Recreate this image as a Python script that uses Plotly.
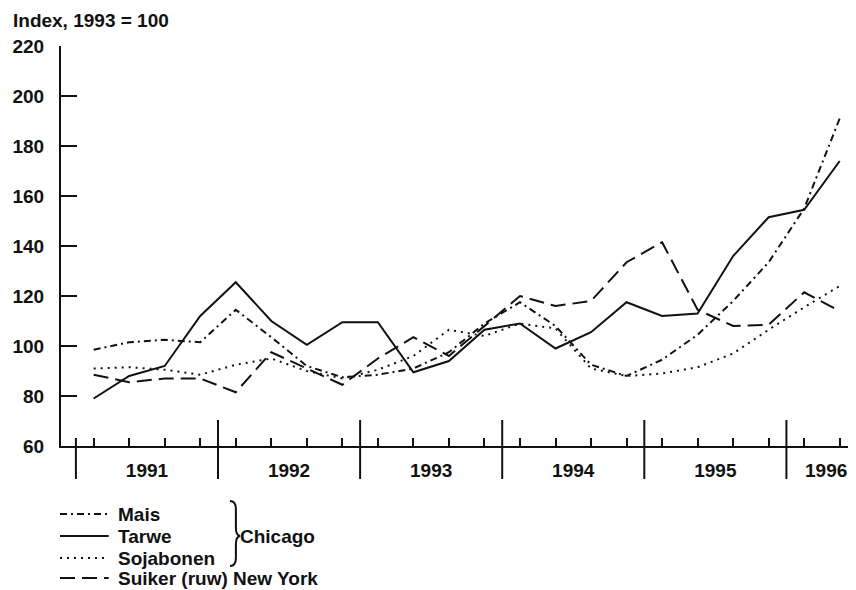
import plotly.graph_objects as go

# ---------------- data (quarterly, index 1993 = 100) ----------------
quarters = ["1991Q1", "1991Q2", "1991Q3", "1991Q4",
            "1992Q1", "1992Q2", "1992Q3", "1992Q4",
            "1993Q1", "1993Q2", "1993Q3", "1993Q4",
            "1994Q1", "1994Q2", "1994Q3", "1994Q4",
            "1995Q1", "1995Q2", "1995Q3", "1995Q4",
            "1996Q1", "1996Q2"]

mais = [98.5, 101.5, 102.5, 101.5, 114.5, 103.5, 92, 87.5, 88.5, 91, 97.5, 109,
        117.5, 108, 92.5, 88, 94.5, 104.5, 118, 133.5, 155, 191]
tarwe = [79, 88, 92, 112, 125.5, 110, 100.5, 109.5, 109.5, 89.5, 94, 106.5,
         109, 99, 105.5, 117.5, 112, 113, 136, 151.5, 154.5, 174]
sojabonen = [91, 91.5, 90.5, 88.5, 92.5, 95, 90, 87, 90.5, 96, 106.5, 104,
             109, 107, 91, 88, 89, 91.5, 97, 106.5, 115.5, 124]
suiker = [88.5, 85.5, 87, 87, 81.5, 97.5, 91, 84.5, 95, 103.5, 96, 108,
          120, 116, 118, 133.5, 141.5, 114.5, 108, 108.5, 121.5, 114]

year_labels = ["1991", "1992", "1993", "1994", "1995", "1996"]
y_ticks = [60, 80, 100, 120, 140, 160, 180, 200, 220]

# ---------------- helpers ----------------
def qpos(label):
    y, q = label.split("Q")
    return int(y) + (int(q) - 0.5) / 4.0

x = [qpos(q) for q in quarters]
year_start = [int(y) for y in year_labels]

# page has an 8px body margin: the figure is drawn 8px in from the corner
OFF = 8
W, H = 856 - OFF, 590 - OFF
L, R, T, B = 56 - OFF, 4, 46 - OFF, 144
PW, PH = W - L - R, H - T - B

YEAR_PX = 143.0
X0 = 1991 - 15 / YEAR_PX
X1 = 1991 + (852 - 71) / YEAR_PX

# year label positions (last, partial year is centred in its visible part)
year_lab_x = [min(int(y) + 0.5, X1 - 26 / YEAR_PX) for y in year_labels]

def px(xp):          # reference-page x pixel -> paper
    return (xp - OFF - L) / PW

def py(yp):          # reference-page y pixel -> paper
    return (H - B - (yp - OFF)) / PH

FONT = "Liberation Sans"
BLACK = "#111111"
TXT = 19
TICK = 19

MAIS_DASH = "7px,4px,2px,4px"
SOJA_DASH = "2px,5px"
SUIKER_DASH = "15px,7px"

fig = go.Figure()

series = [
    ("Mais", mais, MAIS_DASH),
    ("Tarwe", tarwe, "solid"),
    ("Sojabonen", sojabonen, SOJA_DASH),
    ("Suiker (ruw)", suiker, SUIKER_DASH),
]
for name, vals, dash in series:
    fig.add_trace(go.Scatter(
        x=x, y=vals, mode="lines", name=name,
        line=dict(color=BLACK, width=2, dash=dash),
        showlegend=False, hoverinfo="skip"))

shapes = []
# year separators
for i, ys in enumerate(year_start):
    shapes.append(dict(type="line", xref="x", yref="paper",
                       x0=ys, x1=ys,
                       y0=py(438) if i == 0 else py(420), y1=py(479),
                       line=dict(color=BLACK, width=2)))

# legend samples
rows = [514, 536, 558, 578]
legend_dash = [MAIS_DASH, "solid", SOJA_DASH, SUIKER_DASH]
legend_text = ["Mais", "Tarwe", "Sojabonen", "Suiker (ruw) New York"]
for ry, dash in zip(rows, legend_dash):
    shapes.append(dict(type="line", xref="paper", yref="paper",
                       x0=px(55), x1=px(104), y0=py(ry), y1=py(ry),
                       line=dict(color=BLACK, width=2, dash=dash)))

# brace
def P(a, b):
    return f"{px(a):.5f},{py(b):.5f}"

brace = (f"M {P(226, 501)} Q {P(232, 501)} {P(232, 509)} L {P(232, 528)} "
         f"Q {P(232, 535)} {P(236, 536)} Q {P(232, 537)} {P(232, 544)} "
         f"L {P(232, 558)} Q {P(232, 566)} {P(226, 566)}")
shapes.append(dict(type="path", xref="paper", yref="paper", path=brace,
                   line=dict(color=BLACK, width=2)))

annotations = []
for ry, t in zip(rows, legend_text):
    annotations.append(dict(x=px(112), y=py(ry), xref="paper", yref="paper",
                            text=t, showarrow=False, xanchor="left",
                            yanchor="middle", borderpad=0,
                            font=dict(family=FONT, size=TXT, color=BLACK,
                                      weight="bold")))
annotations.append(dict(x=px(235), y=py(536), xref="paper", yref="paper",
                        text="Chicago", showarrow=False, xanchor="left",
                        yanchor="middle", borderpad=0,
                        font=dict(family=FONT, size=TXT, color=BLACK,
                                  weight="bold")))
annotations.append(dict(x=px(9), y=py(20), xref="paper", yref="paper",
                        text="Index, 1993 = 100", showarrow=False,
                        xanchor="left", yanchor="middle", borderpad=0,
                        xshift=-2,
                        font=dict(family=FONT, size=TXT, color=BLACK,
                                  weight="bold")))

fig.update_layout(
    width=W, height=H,
    margin=dict(l=L, r=R, t=T, b=B, pad=0),
    paper_bgcolor="white", plot_bgcolor="white",
    font=dict(family=FONT, size=TICK, color=BLACK),
    shapes=shapes, annotations=annotations,
    xaxis=dict(
        range=[X0, X1],
        tickmode="array", tickvals=year_lab_x, ticktext=year_labels,
        ticks="", showgrid=False, zeroline=False,
        showline=True, linecolor=BLACK, linewidth=2,
        tickfont=dict(family=FONT, size=TICK, color=BLACK, weight="bold"),
        ticklabelstandoff=6,
        minor=dict(tickmode="array", tickvals=x, ticks="inside",
                   ticklen=8, tickwidth=2, tickcolor=BLACK, showgrid=False),
    ),
    yaxis=dict(
        range=[60, 220], tickmode="array", tickvals=y_ticks,
        ticks="inside", ticklen=16, tickwidth=2, tickcolor=BLACK,
        showgrid=False, zeroline=False,
        showline=True, linecolor=BLACK, linewidth=2,
        tickfont=dict(family=FONT, size=TICK, color=BLACK, weight="bold"),
        ticklabelstandoff=11,
    ),
)

fig.write_html("out.html")
